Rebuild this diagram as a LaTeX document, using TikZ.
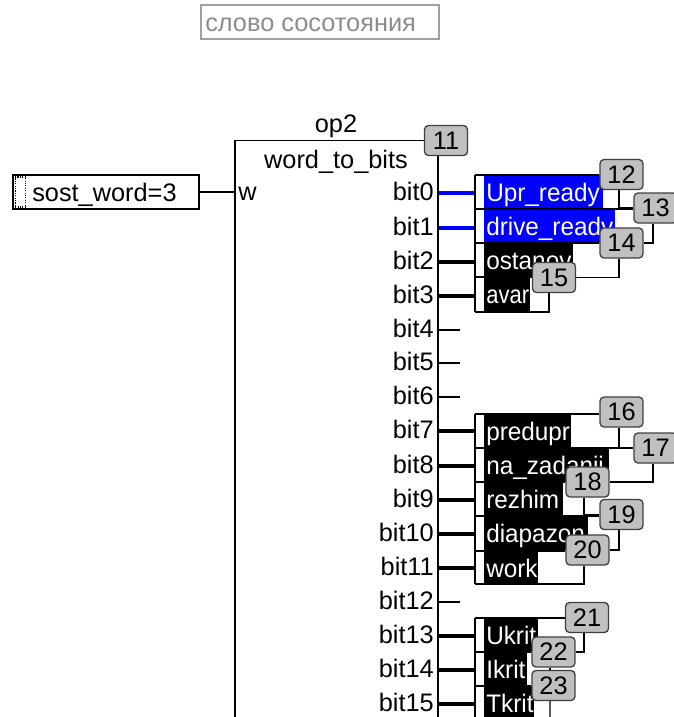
\documentclass[tikz,border=0pt]{standalone}
\usepackage{fontspec}
\setmainfont{Liberation Sans}
\definecolor{badgegrey}{HTML}{C0C0C0}
\definecolor{labelgrey}{HTML}{8C8C8C}
\definecolor{boxgrey}{HTML}{A0A0A0}
\definecolor{pureblue}{HTML}{0000FF}
\tikzset{
  wire/.style={draw=black,line width=1pt},
  busb/.style={draw=black,line width=3.4pt},
  busc/.style={draw=pureblue,line width=3.4pt},
  stubw/.style={draw=black,line width=1pt},
  badge/.style={draw=black!75,line width=1pt,fill=badgegrey,rounded corners=3pt,
    minimum width=32.2pt,minimum height=22.5pt,inner sep=0pt,text=black,font=\fontsize{19}{22}\selectfont},
  txt/.style={inner sep=0pt,anchor=base,font=\fontsize{19}{22}\selectfont,text=black},
  txtw/.style={inner sep=0pt,anchor=base west,font=\fontsize{19}{22}\selectfont,text=white},
  txtr/.style={inner sep=0pt,anchor=base east,font=\fontsize{19}{22}\selectfont,text=black},
  txtl/.style={inner sep=0pt,anchor=base west,font=\fontsize{19}{22}\selectfont,text=black}
}
% name, top, right end, colour, text
\newcommand{\rowcell}[6][.96]{%
  \coordinate (#2) at (475,#3);
  \fill[#5] (484,#3) rectangle (#4,{#3+34});
  \begin{scope}
    \clip (484,#3) rectangle (#4,{#3+34});
    \node[txtw] (#2t) at (486,{#3+26}) {\scalebox{#1}[1]{#6}};
  \end{scope}}
% name, y, text
\newcommand{\bitport}[3]{%
  \coordinate (#1) at (438,#2);
  \node[txtr] (#1t) at (434,{#2+7}) {#3};}
\begin{document}
\begin{tikzpicture}[x=0.75pt,y=-0.75pt]
\useasboundingbox (0,0) rectangle (674,717);
\clip (0,0) rectangle (674,717);
\fill[white] (0,0) rectangle (674,717);

% caption
\node[draw=boxgrey,line width=1.5pt,minimum width=178.5pt,minimum height=25pt,inner sep=0pt] (cap) at (319.5,22) {};
\node[inner sep=0pt,anchor=base west,text=labelgrey,font=\fontsize{19}{22}\selectfont] (capt) at (205,32) {слово сосотояния};

% input
\node[draw=black,line width=1pt,minimum width=139.5pt,minimum height=25.5pt,inner sep=0pt] (sw) at (106,192) {};
\node[draw=black,densely dotted,line width=.8pt,minimum width=8pt,minimum height=22.5pt,inner sep=0pt] (swd) at (20.5,192) {};
\node[txtl] (swt) at (32,201) {sost\_word=3};
\node[txtl] (wt) at (238,200) {w};
\coordinate (wpin) at (235,192);
\draw[wire] (sw.east) -- (wpin);

% block badge and title
\node[badge] (b11) at (446,140.5) {11};
\node[txt] (op) at (336,132) {op2};
\node[txt] (fb) at (336,168) {word\_to\_bits};
\coordinate (blb) at (235,717);
\coordinate (brb) at (438,717);

% rows
\rowcell{r0}{175}{603}{pureblue}{Upr\_ready}
\rowcell{r1}{209}{615}{pureblue}{drive\_ready}
\rowcell{r2}{243}{573}{black}{ostanov}
\rowcell[.87]{r3}{277}{530}{black}{avar}
\coordinate (re1) at (475,312);
\rowcell{r7}{414}{571}{black}{predupr}
\rowcell{r8}{448}{609}{black}{na\_zadanii}
\rowcell{r9}{482}{563}{black}{rezhim}
\rowcell{r10}{516}{588}{black}{diapazon}
\rowcell{r11}{551}{538}{black}{work}
\coordinate (re2) at (475,584);
\rowcell{r13}{618}{538}{black}{Ukrit}
\rowcell{r14}{652}{527}{black}{Ikrit}
\rowcell{r15}{686}{534}{black}{Tkrit}
\coordinate (re3) at (475,717);

% ports
\bitport{p0}{193}{bit0}
\bitport{p1}{228}{bit1}
\bitport{p2}{262}{bit2}
\bitport{p3}{296}{bit3}
\bitport{p4}{330}{bit4}
\bitport{p5}{363}{bit5}
\bitport{p6}{397}{bit6}
\bitport{p7}{431}{bit7}
\bitport{p8}{466}{bit8}
\bitport{p9}{500}{bit9}
\bitport{p10}{534}{bit10}
\bitport{p11}{568}{bit11}
\bitport{p12}{602}{bit12}
\bitport{p13}{636}{bit13}
\bitport{p14}{670}{bit14}
\bitport{p15}{704}{bit15}

% stubs
\draw[busc] (p0) -- (p0 -| r0);
\draw[busc] (p1) -- (p1 -| r1);
\foreach \p/\r in {p2/r2,p3/r3,p7/r7,p8/r8,p9/r9,p10/r10,p11/r11,p13/r13,p14/r14,p15/r15}
  \draw[busb] (\p) -- (\p -| \r);
\foreach \p in {p4,p5,p6,p12}
  \draw[stubw] (\p) -- ++(22,0);

% block outline
\draw[wire] (b11.west) -| (blb);
\draw[wire] (b11.south -| brb) -- (brb);

% badges
\node[badge] (b12) at (621.5,174.5) {12};
\node[badge] (b13) at (655.5,208) {13};
\node[badge] (b14) at (621.5,243) {14};
\node[badge] (b15) at (554,277.5) {15};
\node[badge] (b16) at (621.5,412) {16};
\node[badge] (b17) at (655.5,448) {17};
\node[badge] (b18) at (587.5,482) {18};
\node[badge] (b19) at (621.5,514.5) {19};
\node[badge] (b20) at (587.5,550) {20};
\node[badge] (b21) at (587,617.5) {21};
\node[badge] (b22) at (553.5,652) {22};
\node[badge] (b23) at (553.5,685.5) {23};
\coordinate (e23) at (550,717);

% frame lines, group 1
\draw[wire] (r0) -- (re1);
\draw[wire] (r0) -- (r0 -| b12.west);
\draw[wire] (r1) -- (r1 -| b13.west);
\draw[wire] (r2) -- (r2 -| b14.west);
\draw[wire] (r3) -- (r3 -| b15.west);
\draw[wire] ([xshift=-1.9pt]b12.south) |- (b13.west);
\draw[wire] ([xshift=-1.9pt]b13.south) |- (b14.east);
\draw[wire] ([xshift=-1.9pt]b14.south) |- (b15.east);
\draw[wire] ([xshift=-3.7pt]b15.south) |- (re1);
% group 2
\draw[wire] (r7) -- (re2);
\draw[wire] (r7) -- (r7 -| b16.west);
\draw[wire] (r8) -- (r8 -| b17.west);
\draw[wire] (r9) -- (r9 -| b18.west);
\draw[wire] (r10) -- (r10 -| b19.west);
\draw[wire] (r11) -- (r11 -| b20.west);
\draw[wire] ([xshift=-1.9pt]b16.south) |- (b17.west);
\draw[wire] ([xshift=-1.9pt]b17.south) |- (b18.east);
\draw[wire] ([xshift=-2.6pt]b18.south) |- (b19.west);
\draw[wire] ([xshift=-1.9pt]b19.south) |- (b20.east);
\draw[wire] ([xshift=-2.6pt]b20.south) |- (re2);
% group 3
\draw[wire] (r13) -- (re3);
\draw[wire] (r13) -- (r13 -| b21.west);
\draw[wire] (r14) -- (r14 -| b22.west);
\draw[wire] (r15) -- (r15 -| b23.west);
\draw[wire] ([xshift=-2.3pt]b21.south) |- (b22.east);
\draw[wire] ([xshift=-2.6pt]b22.south) -- ([xshift=-2.6pt]b23.north);
\draw[wire] ([xshift=-2.6pt]b23.south) -- (e23);
\end{tikzpicture}
\end{document}
